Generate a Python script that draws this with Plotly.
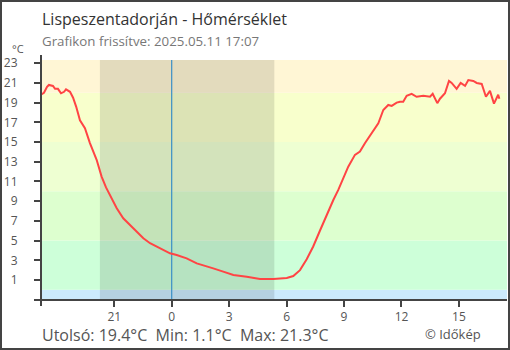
import plotly.graph_objects as go

# hours relative to midnight (negative = previous day)
hours = [-6.83, -6.67, -6.51, -6.41, -6.20, -6.09, -5.94, -5.78, -5.62, -5.52, -5.31, -5.15,
         -4.99, -4.79, -4.53, -4.27, -3.92, -3.66, -3.43, -3.22, -2.87, -2.53, -2.18, -1.83,
         -1.48, -1.13, -0.78, -0.44, -0.09, 0.26, 0.78, 1.31, 1.65, 2.17, 2.69, 3.22, 3.92,
         4.61, 5.31, 5.66, 6.01, 6.35, 6.70, 7.05, 7.39, 7.74, 8.09, 8.44, 8.70, 8.96, 9.22,
         9.57, 9.83, 10.09, 10.44, 10.79, 11.05, 11.31, 11.49, 11.75, 11.92, 12.09, 12.27,
         12.53, 12.79, 13.14, 13.49, 13.63, 13.87, 14.01, 14.27, 14.48, 14.62, 14.88, 15.09,
         15.32, 15.49, 15.75, 15.93, 16.19, 16.41, 16.62, 16.83, 17.05, 17.11]
temps = [19.8, 20.0, 20.6, 20.8, 20.7, 20.4, 20.4, 19.95, 20.1, 20.35, 20.1, 19.5,
         18.6, 17.2, 16.4, 14.9, 13.2, 11.5, 10.4, 9.63, 8.28, 7.26, 6.55, 5.85,
         5.23, 4.73, 4.38, 4.05, 3.71, 3.54, 3.2, 2.69, 2.46, 2.18, 1.85, 1.5, 1.34,
         1.1, 1.1, 1.15, 1.2, 1.4, 2.0, 3.1, 4.4, 6.0, 7.6, 9.12, 10.14, 11.32, 12.5,
         13.7, 14.03, 14.88, 15.9, 16.9, 18.26, 18.77, 18.67, 19.0, 19.1, 19.1, 19.7,
         19.9, 19.6, 19.7, 19.6, 19.9, 18.95, 19.4, 19.95, 21.2, 21.0, 20.4, 21.0,
         20.7, 21.3, 21.2, 21.0, 20.9, 19.6, 20.2, 18.9, 19.8, 19.4]

x_tickvals = [-3, 0, 3, 6, 9, 12, 15]
x_ticktext = ["21", "0", "3", "6", "9", "12", "15"]
y_tickvals = [1, 3, 5, 7, 9, 11, 13, 15, 17, 19, 21, 23]
y_ticktext = [str(v) for v in y_tickvals]

band_edges = [-5, 0, 5, 10, 15, 20, 30]
band_colors = ["#cceafc", "#cdffd9", "#ddffcf", "#eeffd2", "#f8ffcc", "#fff6d5"]
night_start, night_end = -3.75, 5.36

W, H = 510, 350
L, R, T, B = 41, 3, 60, 50
PW, PH = W - L - R, H - T - B

def px(x):
    return (x - L) / PW

def py(y):
    return (H - B - y) / PH

fig = go.Figure()
fig.add_trace(go.Scatter(x=hours, y=temps, mode="lines",
                         line=dict(color="#ff4444", width=2), hoverinfo="skip",
                         showlegend=False))

shapes = []
for i, c in enumerate(band_colors):
    shapes.append(dict(type="rect", xref="paper", yref="y", x0=0, x1=1,
                       y0=band_edges[i], y1=band_edges[i + 1], fillcolor=c,
                       line=dict(width=0), layer="below"))
shapes.append(dict(type="rect", xref="x", yref="paper", x0=night_start, x1=night_end,
                   y0=0, y1=1, fillcolor="rgba(0,0,0,0.11)", line=dict(width=0), layer="below"))
shapes.append(dict(type="line", xref="x", yref="paper", x0=0, x1=0, y0=0, y1=1,
                   line=dict(color="#3a8fc6", width=1.2), layer="below"))
# axis lines (extending slightly beyond plot area)
shapes.append(dict(type="line", xref="paper", yref="paper", x0=px(34), x1=1, y0=0, y1=0,
                   line=dict(color="#444", width=2)))
shapes.append(dict(type="line", xref="paper", yref="paper", x0=0, x1=0, y0=py(306), y1=py(55),
                   line=dict(color="#444", width=2)))
# outer border
shapes.append(dict(type="rect", xref="paper", yref="paper", x0=px(1), x1=px(509),
                   y0=py(349), y1=py(1), line=dict(color="#444", width=2)))

tickfont = dict(family="Open Sans", size=12, color="#555")
common_x = dict(range=[-6.825, 17.51], tickmode="array", tickvals=x_tickvals,
                showgrid=False, zeroline=False, showline=False,
                ticklen=6, tickwidth=1.5, tickcolor="#444")
common_y = dict(range=[-1.03, 23.33], tickmode="array", tickvals=y_tickvals,
                showgrid=False, zeroline=False, showline=False,
                ticklen=6, tickwidth=1.5, tickcolor="#444")

fig.update_layout(
    width=W, height=H,
    margin=dict(l=L, r=R, t=T, b=B),
    paper_bgcolor="white", plot_bgcolor="white",
    font=dict(family="Open Sans", color="#555"),
    xaxis=dict(**common_x, ticks="outside", ticktext=x_ticktext, tickfont=tickfont),
    yaxis=dict(**common_y, ticks="outside", ticktext=y_ticktext, tickfont=tickfont,
               ticklabelstandoff=14),
    xaxis2=dict(**common_x, ticks="inside", showticklabels=False, overlaying="x",
                matches="x", anchor="y"),
    yaxis2=dict(**common_y, ticks="inside", showticklabels=False, overlaying="y",
                matches="y", anchor="x"),
    shapes=shapes,
    annotations=[
        dict(text="Lispeszentadorján - Hőmérséklet", xref="paper", yref="paper",
             x=px(40), y=py(19), xanchor="left", yanchor="middle", showarrow=False,
             font=dict(family="Open Sans", size=16, color="#333")),
        dict(text="Grafikon frissítve: 2025.05.11 17:07", xref="paper", yref="paper",
             x=px(40), y=py(41), xanchor="left", yanchor="middle", showarrow=False,
             font=dict(family="Open Sans", size=13.3, color="#777")),
        dict(text="°C", xref="paper", yref="paper", x=px(18), y=py(49),
             xanchor="center", yanchor="middle", showarrow=False,
             font=dict(family="Open Sans", size=11, color="#555")),
        dict(text="Utolsó: 19.4°C  Min: 1.1°C  Max: 21.3°C", xref="paper", yref="paper",
             x=px(40), y=py(335), xanchor="left", yanchor="middle", showarrow=False,
             font=dict(family="Open Sans", size=16, color="#555")),
        dict(text="© Időkép", xref="paper", yref="paper", x=px(453), y=py(333.5),
             xanchor="center", yanchor="middle", showarrow=False,
             font=dict(family="Open Sans", size=13, color="#555")),
    ],
)

fig.write_html("out.html")
